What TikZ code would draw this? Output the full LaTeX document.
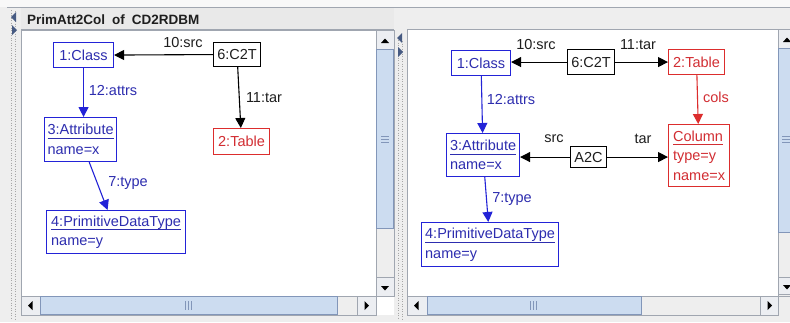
\documentclass[tikz,border=0pt]{standalone}
\usepackage{fontspec}
\setmainfont{Liberation Sans}
\usetikzlibrary{arrows.meta}
\definecolor{bg}{RGB}{238,238,238}
\definecolor{frame}{RGB}{160,166,176}
\definecolor{bbox}{RGB}{35,35,215}
\definecolor{btxt}{RGB}{45,45,175}
\definecolor{rbox}{RGB}{220,45,45}
\definecolor{rtxt}{RGB}{210,45,50}
\definecolor{ktxt}{RGB}{30,30,30}
\definecolor{thumb}{RGB}{204,220,240}
\definecolor{thumbd}{RGB}{130,150,185}
\definecolor{btn}{RGB}{236,238,242}
\definecolor{arrowgrey}{RGB}{70,90,130}
\newcommand\ulx[1]{\setbox0\hbox{#1}\rlap{\rule[-4pt]{\wd0}{0.9pt}}\box0}
\tikzset{
  lbl/.style={font=\fontsize{14.5}{17}\selectfont, inner sep=0pt},
  obj/.style={draw, line width=1.1pt, anchor=north west, inner sep=0pt,
    align=left, font=\fontsize{14.5}{19.5}\selectfont},
  bobj/.style={obj, draw=bbox, text=btxt},
  robj/.style={obj, draw=rbox, text=rtxt},
  kobj/.style={obj, draw=black, text=ktxt},
  link/.style={line width=1.1pt, -{Triangle[length=10pt,width=10pt]}},
  blink/.style={link, draw=bbox},
  rlink/.style={link, draw=rbox},
  klink/.style={link, draw=black},
  sbtn/.style={fill=btn, draw=frame, line width=0.6pt},
  sthumb/.style={fill=thumb, draw=thumbd, line width=0.6pt},
  strack/.style={fill=bg, draw=frame, line width=0.6pt},
  tri/.style={fill=black, draw=none},
}
\begin{document}
\begin{tikzpicture}[x=1pt,y=-1pt]
\useasboundingbox (0,0) rectangle (790,322);
\fill[bg] (0,0) rectangle (790,322);
\fill[white!60!bg] (0,0) rectangle (790,7);
\draw[frame, line width=0.8pt] (7,7) -- (790,7);
% left splitter strip
\fill[bg] (7,8) rectangle (21,322);
\draw[gray!70, line width=1pt, dash pattern=on 1pt off 1.5pt] (11,10) -- (11,320);
\draw[gray!70, line width=1pt, dash pattern=on 1pt off 1.5pt] (15,11.2) -- (15,320);
\fill[arrowgrey] (11,17) -- (16,12) -- (16,22) -- cycle;
\fill[arrowgrey] (17,30) -- (12,25) -- (12,35) -- cycle;
% title bar
\fill[bg!95!gray] (21,8) rectangle (394,29);
\draw[frame, line width=0.6pt] (21,29) -- (394,29);
\node[anchor=base west, inner sep=0pt, text=ktxt, font=\fontsize{13.5}{16}\selectfont\bfseries] (title) at (27,24) {PrimAtt2Col\hspace{7pt}of\hspace{7pt}CD2RDBM};
% middle splitter strip
\fill[bg] (394,8) rectangle (407,322);
\draw[gray!70, line width=1pt, dash pattern=on 1pt off 1.5pt] (398,40) -- (398,320);
\draw[gray!70, line width=1pt, dash pattern=on 1pt off 1.5pt] (402,41.2) -- (402,320);
\fill[arrowgrey] (397,38) -- (402,33) -- (402,43) -- cycle;
\fill[arrowgrey] (403,52) -- (398,47) -- (398,57) -- cycle;

% ---------- left panel ----------
\draw[frame, fill=white, line width=0.7pt] (21.5,30.5) rectangle (376,296);
% vertical scrollbar
\draw[strack] (376,30.5) rectangle (394,296);
\draw[sbtn] (376,30.5) rectangle (394,49);
\fill[tri] (381,43) -- (389,43) -- (385,38.5) -- cycle;
\draw[sthumb] (376.5,49) rectangle (393.5,228);
\draw[thumbd] (381,136) -- (389,136) (381,139) -- (389,139) (381,142) -- (389,142);
\draw[sbtn] (376,277) rectangle (394,296);
\fill[tri] (381,286) -- (389,286) -- (385,290.5) -- cycle;
% horizontal scrollbar
\draw[strack] (21.5,296) rectangle (376,315);
\draw[sbtn] (21.5,296) rectangle (40,315);
\fill[tri] (28,305.5) -- (32.5,301) -- (32.5,310) -- cycle;
\draw[sthumb] (40,296.5) rectangle (337,314.5);
\draw[thumbd] (185.5,301) -- (185.5,310) (188.5,301) -- (188.5,310) (191.5,301) -- (191.5,310);
\draw[sbtn] (357,296) rectangle (376,315);
\fill[tri] (369,305.5) -- (364.5,301) -- (364.5,310) -- cycle;
\fill[white] (376.5,296.5) rectangle (394,315);

% left nodes
\node[bobj, minimum width=60pt, minimum height=25pt] (L1) at (53,42) {1:Class};
\node[kobj, minimum width=47pt, minimum height=24pt] (L6) at (213,42) {6:C2T};
\node[robj, minimum width=56pt, minimum height=26pt] (L2) at (213,128) {2:Table};
\node[bobj, minimum width=72pt, minimum height=44pt] (L3) at (44,117) {\ulx{3:Attribute}\\name=x};
\node[bobj, minimum width=139pt, minimum height=43pt] (L4) at (46,210) {\ulx{4:PrimitiveDataType}\\name=y};
% left links
\draw[klink] (L6.west) -- (L1.east);
\draw[klink] (L6) -- (L2);
\draw[blink] (L1.south) -- (L1.south |- L3.north);
\draw[blink] (L3) -- (L4);
% left labels
\node[lbl, text=ktxt] (l10) at (183,43) {10:src};
\node[lbl, text=ktxt] (l11) at (264,98) {11:tar};
\node[lbl, text=btxt] (l12) at (113,91) {12:attrs};
\node[lbl, text=btxt] (l7) at (128,183) {7:type};

% ---------- right panel ----------
\draw[frame, fill=white, line width=0.7pt] (407,29.5) rectangle (778,296);
% vertical scrollbar
\draw[strack] (778,29.5) rectangle (792,296);
\draw[sbtn] (778,29.5) rectangle (792,48);
\fill[tri] (783,42) -- (791,42) -- (787,37.5) -- cycle;
\draw[sthumb] (778.5,48) rectangle (792,232);
\draw[thumbd] (782,136) -- (790,136) (782,139) -- (790,139) (782,142) -- (790,142);
\draw[sbtn] (778,277) rectangle (792,294);
\fill[tri] (783,285) -- (791,285) -- (787,289.5) -- cycle;
% horizontal scrollbar
\draw[strack] (407,296) rectangle (778,315);
\draw[sbtn] (407,296) rectangle (427,315);
\fill[tri] (414,305.5) -- (418.5,301) -- (418.5,310) -- cycle;
\draw[sthumb] (427,296.5) rectangle (641,314.5);
\draw[thumbd] (530.5,301) -- (530.5,310) (533.5,301) -- (533.5,310) (536.5,301) -- (536.5,310);
\draw[sbtn] (760,296) rectangle (778,315);
\fill[tri] (772,305.5) -- (767.5,301) -- (767.5,310) -- cycle;

% right nodes
\node[bobj, minimum width=59pt, minimum height=25pt] (R1) at (451,50) {1:Class};
\node[kobj, minimum width=47pt, minimum height=25pt] (R6) at (567,49) {6:C2T};
\node[robj, minimum width=56pt, minimum height=25pt] (R2) at (668,49) {2:Table};
\node[bobj, minimum width=73pt, minimum height=43pt] (R3) at (446,133) {\ulx{3:Attribute}\\name=x};
\node[kobj, minimum width=36pt, minimum height=21pt] (RA) at (570,146) {A2C};
\node[robj, minimum width=61pt, minimum height=62pt] (RC) at (668,124) {\ulx{Column}\\type=y\\name=x};
\node[bobj, minimum width=137pt, minimum height=44pt] (R4) at (421,222) {\ulx{4:PrimitiveDataType}\\name=y};
% right links
\draw[klink] (R6.west) -- (R6.west -| R1.east);
\draw[klink] (R6.east) -- (R6.east -| R2.west);
\draw[blink] (R1) -- (R3);
\draw[rlink] (R2) -- (RC);
\draw[klink] (RA.west) -- (RA.west -| R3.east);
\draw[klink] (RA.east) -- (RA.east -| RC.west);
\draw[blink] (R3) -- (R4);
% right labels
\node[lbl, text=ktxt] (r10) at (536,45) {10:src};
\node[lbl, text=ktxt] (r11) at (638,45) {11:tar};
\node[lbl, text=btxt] (r12) at (511,100) {12:attrs};
\node[lbl, text=rtxt] (rcols) at (716,97) {cols};
\node[lbl, text=ktxt] (rsrc) at (554,139) {src};
\node[lbl, text=ktxt] (rtar) at (643,139) {tar};
\node[lbl, text=btxt] (r7) at (512,199) {7:type};
\end{tikzpicture}
\end{document}
